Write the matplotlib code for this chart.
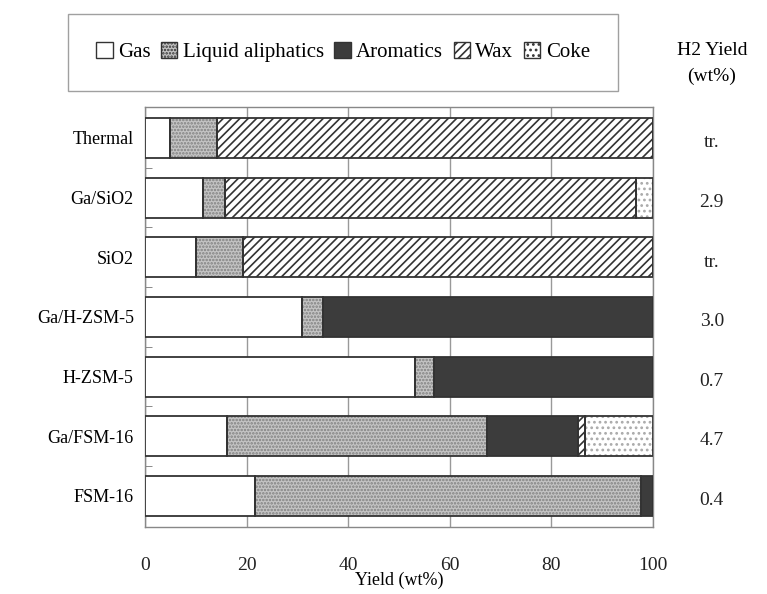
import numpy as np
import matplotlib
matplotlib.use("Agg")
from matplotlib import pyplot as plt
from matplotlib.patches import Patch
from matplotlib.transforms import blended_transform_factory

plt.rcParams['font.family'] = ['Liberation Serif', 'DejaVu Serif']
plt.rcParams['hatch.linewidth'] = 1.2

catalysts = ['Thermal', 'Ga/SiO2', 'SiO2', 'Ga/H-ZSM-5', 'H-ZSM-5', 'Ga/FSM-16', 'FSM-16']
gas = [4.9, 11.4, 10.0, 31.0, 53.2, 16.1, 21.6]
liquid = [9.2, 4.3, 9.3, 4.0, 3.8, 51.3, 76.0]
aromatics = [0.0, 0.0, 0.0, 65.0, 43.0, 17.9, 2.4]
wax = [85.9, 81.0, 80.7, 0.0, 0.0, 1.3, 0.0]
coke = [0.0, 3.3, 0.0, 0.0, 0.0, 13.4, 0.0]
h2_yield = ['tr.', '2.9', 'tr.', '3.0', '0.7', '4.7', '0.4']

components = ['Gas', 'Liquid aliphatics', 'Aromatics', 'Wax', 'Coke']
series = [gas, liquid, aromatics, wax, coke]
# facecolor, hatch, hatch colour
styles = [
    ('white', None, '#333333'),
    ('#c4c4c4', '.....', '#808080'),
    ('#3c3c3c', None, '#333333'),
    ('white', '////', '#333333'),
    ('white', '...', '#aaaaaa'),
]

fig = plt.figure(figsize=(7.67, 5.94), dpi=100)
ax = fig.add_axes([0.189, 0.113, 0.662, 0.707])

y = np.arange(len(catalysts))
left = np.zeros(len(catalysts))
for vals, (fc, hatch, hc) in zip(series, styles):
    vals = np.array(vals)
    # fill + hatch drawn first, then the outline on top
    ax.barh(y, vals, left=left, height=0.67, color=fc, hatch=hatch,
            edgecolor=hc, linewidth=0, zorder=3)
    ax.barh(y, vals, left=left, height=0.67, fill=False,
            edgecolor='#333333', linewidth=1.3, zorder=4)
    left += vals

ax.set_xlim(0, 100)
ax.set_ylim(6.52, -0.52)
ax.set_yticks(y)
ax.set_yticklabels(catalysts, fontsize=13)
ax.set_yticks(np.arange(0.5, 6, 1), minor=True)
ax.tick_params(axis='y', which='major', length=0, pad=8)
ax.tick_params(axis='y', which='minor', length=5, direction='in', color='#777777')
ax.set_xticks([0, 20, 40, 60, 80, 100])
ax.tick_params(axis='x', length=0, pad=22, labelsize=14, colors='#222222')
ax.set_xlabel('Yield (wt%)', fontsize=13, labelpad=-2)
ax.grid(axis='x', color='#999999', linewidth=1.0, zorder=0)
for sp in ax.spines.values():
    sp.set_color('#888888')
    sp.set_linewidth(1.0)

# H2 yield column
tr = blended_transform_factory(fig.transFigure, ax.transData)
for yi, txt in zip(y, h2_yield):
    ax.text(0.928, yi + 0.08, txt, transform=tr, ha='center', va='center', fontsize=14,
            color='#222222')
fig.text(0.928, 0.915, 'H2 Yield', ha='center', va='center', fontsize=14)
fig.text(0.928, 0.872, '(wt%)', ha='center', va='center', fontsize=14)

handles = [Patch(facecolor=fc, hatch=hatch, edgecolor='#333333', linewidth=1.0)
           for fc, hatch, hc in styles]
leg = fig.legend(handles, components, loc='center', bbox_to_anchor=(0.447, 0.912), ncol=5,
                 fontsize=15, handlelength=0.8, handleheight=0.8, handletextpad=0.25,
                 columnspacing=0.5, borderpad=1.35, fancybox=False, edgecolor='#888888')
leg.get_frame().set_linewidth(1.0)

fig.savefig('out.png', dpi=100)
